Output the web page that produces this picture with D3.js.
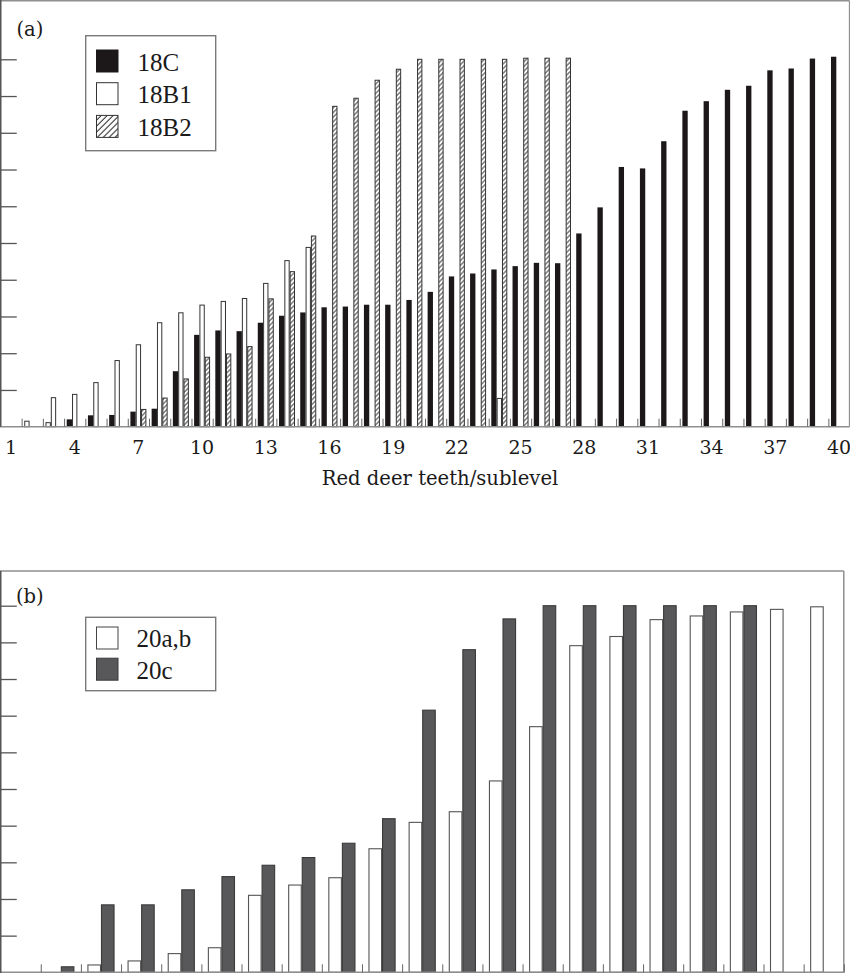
<!DOCTYPE html>
<html><head><meta charset="utf-8">
<script src="https://cdn.jsdelivr.net/npm/d3@7"></script>
<style>
body{margin:0;background:#fff}
svg{display:block}
text{font-family:"DejaVu Serif",serif;fill:#1a1a1a}
.leg{font-family:"Liberation Serif","Times New Roman",serif}
</style>
</head><body>
<svg id="chart" width="850" height="973"></svg>
<script>
// ---------- Data: panel (a) ----------
const sublevelsA = d3.range(1, 41);
const tickLabelsA = [1, 4, 7, 10, 13, 16, 19, 22, 25, 28, 31, 34, 37, 40];
const seriesKeysA = ["18C", "18B1", "18B2"];
const values18C = [null, null, null, 2.0, 3.1, 3.2, 4.1, 4.9, 15.1, 25.0,
  26.2, 26.0, 28.3, 30.2, 31.1, 32.5, 32.7, 33.2, 33.2, 34.5,
  36.7, 40.9, 41.7, 42.8, 43.7, 44.6, 44.5, 52.6, 59.7, 70.7,
  70.3, 77.7, 86.0, 88.6, 91.7, 92.8, 97.0, 97.5, 100.2, 100.7];
// small open (unfilled) bars drawn in the 18C position at sublevels 2 and 3
const values18Copen = [null, 1.5, 1.1, null, null, null, null, null, null, null,
  null, null, null, null, null, null, null, null, null, null,
  null, null, null, null, null, null, null, null, null, null,
  null, null, null, null, null, null, null, null, null, null];
const values18B1 = [null, null, 7.9, 8.8, 12.0, 18.0, 22.3, 28.3, 31.0, 33.1,
  34.1, 34.9, 39.0, 45.2, 48.8, null, null, null, null, null,
  null, null, null, 7.7, null, null, null, null, null, null,
  null, null, null, null, null, null, null, null, null, null];
const values18B2 = [null, null, null, null, null, null, 4.7, 7.8, 13.0, 18.9,
  19.8, 21.8, 34.8, 42.2, 51.9, 87.2, 89.4, 94.3, 97.3, 100.0,
  100.0, 100.0, 100.0, 100.0, 100.3, 100.3, 100.3, null, null, null,
  null, null, null, null, null, null, null, null, null, null];

// ---------- Data: panel (b) ----------
const groupsB = d3.range(0, 21);
const seriesKeysB = ["20a,b", "20c"];
const values20ab = [null, null, 2.0, 3.1, 5.1, 6.7, 21.0, 23.8, 25.8, 33.7,
  40.9, 43.8, 52.2, 67.0, 89.1, 91.6, 96.2, 97.2, 98.3, 99.0, 99.7];
const values20c = [null, 1.5, 18.4, 18.4, 22.5, 26.1, 29.2, 31.3, 35.2, 41.9,
  71.5, 88.0, 96.4, 100.0, 100.0, 100.0, 100.0, 100.0, 100.0, null, null];

const yTickValues = d3.range(10, 101, 10);
const axisTitleA = "Red deer teeth/sublevel";

// ---------- Setup ----------
const svg = d3.select("#chart");
const defs = svg.append("defs");
function makeHatch(id, gap, sw) {
  const p = defs.append("pattern").attr("id", id)
    .attr("patternUnits", "userSpaceOnUse")
    .attr("width", gap).attr("height", gap)
    .attr("patternTransform", "rotate(45)");
  p.append("rect").attr("width", gap).attr("height", gap).attr("fill", "#fff");
  p.append("line").attr("x1", gap / 2).attr("x2", gap / 2)
    .attr("y1", -1).attr("y2", gap + 1)
    .attr("stroke", "#222").attr("stroke-width", sw);
}
makeHatch("hatchBar", 3.3, 0.9);
makeHatch("hatchLegend", 4.2, 1);

const frameColor = "#8f8f8f";
const axisColor = "#555";

function line(g, x1, y1, x2, y2, color, w) {
  g.append("line").attr("x1", x1).attr("y1", y1).attr("x2", x2).attr("y2", y2)
    .attr("stroke", color).attr("stroke-width", w);
}

// ================= Panel (a) =================
const gA = svg.append("g");
const A = {left: 0.4, right: 849.6, top: 0.75, base: 426.7, y100: 59.3};
const xA = d3.scaleBand().domain(sublevelsA).range([A.left, A.right]);
const slotA = d3.scaleBand().domain(seriesKeysA).range([0, xA.bandwidth()]).paddingOuter(0.49);
const yA = d3.scaleLinear().domain([0, 100]).range([A.base, A.y100]);

// frame
line(gA, 0, A.top, A.right, A.top, frameColor, 1.5);
line(gA, A.right, A.top, A.right, A.base, frameColor, 1.5);

// bars
const barsA = [
  {key: "18C", values: values18C, fill: "#1c1819", stroke: "none"},
  {key: "18C", values: values18Copen, fill: "#fff", stroke: "#333"},
  {key: "18B1", values: values18B1, fill: "#fff", stroke: "#333"},
  {key: "18B2", values: values18B2, fill: "url(#hatchBar)", stroke: "#333"}
];
barsA.forEach(s => {
  const inset = s.stroke === "none" ? 0 : 0.5;
  gA.append("g").selectAll("rect")
    .data(sublevelsA.map((c, i) => ({c, v: s.values[i]})).filter(d => d.v != null))
    .join("rect")
    .attr("x", d => xA(d.c) + slotA(s.key) + inset)
    .attr("width", slotA.bandwidth() - 2 * inset)
    .attr("y", d => yA(d.v))
    .attr("height", d => yA(0) - yA(d.v))
    .attr("fill", s.fill)
    .attr("stroke", s.stroke)
    .attr("stroke-width", 1);
});

// baseline
line(gA, 0, A.base, A.right, A.base, frameColor, 1.5);

// y ticks (inward, no labels)
gA.append("g").attr("transform", "translate(0.75,0)")
  .call(d3.axisRight(yA).tickValues(yTickValues).tickSize(16).tickFormat(""))
  .call(g => g.select(".domain").remove())
  .call(g => g.selectAll(".tick line").attr("stroke", axisColor).attr("stroke-width", 1.3));
line(gA, 0.75, 0, 0.75, A.base, axisColor, 1.5);

// x boundary ticks (upward)
const edgeA = d3.scaleLinear().domain([0, sublevelsA.length]).range([A.left, A.right]);
gA.append("g").attr("transform", `translate(0,${A.base})`)
  .call(d3.axisTop(edgeA).tickValues(d3.range(1, sublevelsA.length)).tickSize(8).tickFormat(""))
  .call(g => g.select(".domain").remove())
  .call(g => g.selectAll(".tick line").attr("stroke", "#666").attr("stroke-width", 1));

// x labels
gA.append("g").attr("transform", `translate(0,${A.base})`)
  .call(d3.axisBottom(xA).tickValues(tickLabelsA).tickSize(0).tickPadding(13.8))
  .call(g => g.select(".domain").remove())
  .call(g => g.selectAll(".tick text").attr("font-size", 19)
    .attr("font-family", "DejaVu Serif").attr("fill", "#1a1a1a"));

gA.append("text").attr("x", 440).attr("y", 485).attr("text-anchor", "middle")
  .attr("font-size", 19.6).text(axisTitleA);
gA.append("text").attr("x", 16.5).attr("y", 35.5).attr("font-size", 19.5).text("(a)");

// legend (a)
const legA = gA.append("g");
legA.append("rect").attr("x", 85.7).attr("y", 35.7).attr("width", 130).attr("height", 115)
  .attr("fill", "#fff").attr("stroke", "#7a7a7a").attr("stroke-width", 1.4);
const legItemsA = [
  {key: "18C", fill: "#1c1819", stroke: "#1c1819"},
  {key: "18B1", fill: "#fff", stroke: "#333"},
  {key: "18B2", fill: "url(#hatchLegend)", stroke: "#333"}
];
legItemsA.forEach((d, i) => {
  const cy = 61 + i * 32.7;
  legA.append("rect").attr("x", 96.5).attr("y", cy - 11).attr("width", 21.5).attr("height", 22)
    .attr("fill", d.fill).attr("stroke", d.stroke).attr("stroke-width", 1);
  legA.append("text").attr("class", "leg").attr("x", 137.5).attr("y", cy + 9.6)
    .attr("font-size", 25).text(d.key);
});

// ================= Panel (b) =================
const gB = svg.append("g");
const B = {left: 0.6, right: 843.8, top: 571, base: 972.3, y100: 605.7};
const xB = d3.scaleBand().domain(groupsB).range([B.left, B.right]);
const slotB = d3.scaleBand().domain(seriesKeysB).range([0, xB.bandwidth()]).paddingOuter(0.48);
const yB = d3.scaleLinear().domain([0, 100]).range([B.base, B.y100]);

line(gB, 0, B.top, B.right, B.top, frameColor, 1.5);
line(gB, B.right, B.top, B.right, 973, frameColor, 1.5);

const barsB = [
  {key: "20a,b", values: values20ab, fill: "#fff", stroke: "#555"},
  {key: "20c", values: values20c, fill: "#58585a", stroke: "#3a3a3a"}
];
barsB.forEach(s => {
  gB.append("g").selectAll("rect")
    .data(groupsB.map((c, i) => ({c, v: s.values[i]})).filter(d => d.v != null))
    .join("rect")
    .attr("x", d => xB(d.c) + slotB(s.key) + 0.5)
    .attr("width", slotB.bandwidth() - 1)
    .attr("y", d => yB(d.v))
    .attr("height", d => yB(0) - yB(d.v))
    .attr("fill", s.fill)
    .attr("stroke", s.stroke)
    .attr("stroke-width", 1.1);
});

line(gB, 0, B.base, B.right, B.base, frameColor, 1.5);

gB.append("g").attr("transform", "translate(0.75,0)")
  .call(d3.axisRight(yB).tickValues(yTickValues).tickSize(16).tickFormat(""))
  .call(g => g.select(".domain").remove())
  .call(g => g.selectAll(".tick line").attr("stroke", axisColor).attr("stroke-width", 1.3));
line(gB, 0.75, B.top, 0.75, 973, axisColor, 1.5);

const edgeB = d3.scaleLinear().domain([0, groupsB.length]).range([B.left, B.right]);
gB.append("g").attr("transform", `translate(0,${B.base})`)
  .call(d3.axisTop(edgeB).tickValues(d3.range(1, groupsB.length + 1)).tickSize(8).tickFormat(""))
  .call(g => g.select(".domain").remove())
  .call(g => g.selectAll(".tick line").attr("stroke", "#666").attr("stroke-width", 1));

gB.append("text").attr("x", 16).attr("y", 602.5).attr("font-size", 19.5).text("(b)");

const legB = gB.append("g");
legB.append("rect").attr("x", 85.7).attr("y", 617.3).attr("width", 130).attr("height", 73.4)
  .attr("fill", "#fff").attr("stroke", "#7a7a7a").attr("stroke-width", 1.4);
const legItemsB = [
  {key: "20a,b", fill: "#fff", stroke: "#444"},
  {key: "20c", fill: "#58585a", stroke: "#3a3a3a"}
];
legItemsB.forEach((d, i) => {
  const cy = 638 + i * 31.2;
  legB.append("rect").attr("x", 96.5).attr("y", cy - 11).attr("width", 21.5).attr("height", 22)
    .attr("fill", d.fill).attr("stroke", d.stroke).attr("stroke-width", 1);
  legB.append("text").attr("class", "leg").attr("x", 136.5).attr("y", cy + 9.4)
    .attr("font-size", 25).text(d.key);
});
</script>
</body></html>
